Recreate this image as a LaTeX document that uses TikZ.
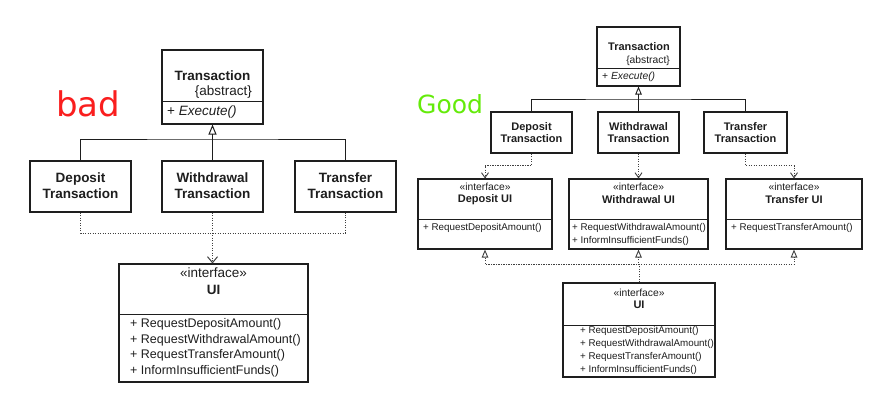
\documentclass[tikz,border=0pt]{standalone}
\usepackage{fontspec}
\setmainfont{Liberation Sans}
\newfontfamily\labelfont{DejaVu Sans}
\usetikzlibrary{arrows.meta}
\definecolor{badred}{RGB}{250,30,30}
\definecolor{goodgreen}{RGB}{100,235,10}
\definecolor{ink}{RGB}{30,30,30}
\begin{document}
\begin{tikzpicture}[x=1pt,y=-1pt,
  cls/.style={draw=ink, line width=1.1pt, inner sep=0pt},
  txt/.style={inner sep=0pt, text=ink},
  lname/.style={txt, align=center, font=\fontsize{13.5}{16}\selectfont\bfseries},
  lreg/.style={txt, font=\fontsize{13.5}{16}\selectfont},
  lmeth/.style={txt, anchor=west, font=\fontsize{12.5}{15}\selectfont},
  rname/.style={txt, align=center, font=\fontsize{11}{12}\selectfont\bfseries},
  rreg/.style={txt, font=\fontsize{10.3}{12}\selectfont},
  rmeth/.style={txt, anchor=west, font=\fontsize{9.8}{12}\selectfont},
  conn/.style={draw=ink, line width=1pt},
  dep/.style={draw=ink!85, line width=0.9pt, dash pattern=on 1.2pt off 1.3pt},
  linh/.style={-{Triangle[open,length=10pt,width=8pt,line width=1pt]}},
  rinh/.style={-{Triangle[open,length=8pt,width=6.5pt,line width=0.9pt]}},
  lvee/.style={-{Straight Barb[length=6pt,width=10pt,line width=1pt]}},
  rvee/.style={-{Straight Barb[length=5pt,width=7pt,line width=0.9pt]}}
]
\useasboundingbox[fill=white] (0,0) rectangle (888,408);

% ---------------- labels ----------------
\node[anchor=base west, inner sep=0pt, text=badred, font=\labelfont\fontsize{34}{34}\selectfont] (bad) at (56,116) {bad};
\node[anchor=base west, inner sep=0pt, text=goodgreen, font=\labelfont\fontsize{25}{25}\selectfont] (good) at (417,113) {Good};

% ================= BAD (left) =================
\node[cls, minimum width=101pt, minimum height=74pt] (lT) at (212.5,87) {};
\draw[conn] (lT.west |- 0,101) -- (lT.east |- 0,101);
\node[lname] (lTn) at (212.5,76) {Transaction};
\node[lreg, anchor=east] (lTa) at (252,92) {\{abstract\}};
\node[lreg, anchor=west] (lTm) at (167,112) {+ \itshape Execute()};

\node[cls, minimum width=101pt, minimum height=51pt] (lD) at (80.5,186.5) {};
\node[lname] (lDn) at (80.5,186) {Deposit\\Transaction};
\node[cls, minimum width=101pt, minimum height=51pt] (lW) at (212.5,186.5) {};
\node[lname] (lWn) at (212.5,186) {Withdrawal\\Transaction};
\node[cls, minimum width=101pt, minimum height=51pt] (lTr) at (345.5,186.5) {};
\node[lname] (lTrn) at (345.5,186) {Transfer\\Transaction};

\node[cls, minimum width=189pt, minimum height=118pt] (lUI) at (213.5,323) {};
\draw[conn] (lUI.west |- 0,314) -- (lUI.east |- 0,314);
\node[lreg] (lUIs) at (213.5,273) {«interface»};
\node[lname] (lUIn) at (213.5,290) {UI};
\node[lmeth] (lm1) at (130,324.5) {+ RequestDepositAmount()};
\node[lmeth] (lm2) at (130,340) {+ RequestWithdrawalAmount()};
\node[lmeth] (lm3) at (130,355.5) {+ RequestTransferAmount()};
\node[lmeth] (lm4) at (130,371) {+ InformInsufficientFunds()};

% inheritance
\coordinate (lJ) at (212.5,139);
\draw[conn] (lD.north) |- (lJ) -| (lTr.north);
\draw[conn, linh] (lW.north) -- (lT.south);
% dependencies
\coordinate (lK) at (212.5,233);
\draw[dep] (lD.south) |- (lK) -| (lTr.south);
\draw[dep, lvee] (lW.south) -- (lW.south |- lUI.north);

% ================= GOOD (right) =================
\node[cls, minimum width=83pt, minimum height=59pt] (rT) at (638.5,56.5) {};
\draw[conn] (rT.west |- 0,68) -- (rT.east |- 0,68);
\node[rname] (rTn) at (639,47) {Transaction};
\node[rreg, anchor=east] (rTa) at (670,61) {\{abstract\}};
\node[rreg, anchor=west] (rTm) at (602,77) {+ \itshape Execute()};

\node[cls, minimum width=81pt, minimum height=41pt] (rD) at (531.5,132.5) {};
\node[rname] (rDn) at (531.5,132.5) {Deposit\\Transaction};
\node[cls, minimum width=81pt, minimum height=41pt] (rW) at (638.5,132.5) {};
\node[rname] (rWn) at (638.5,132.5) {Withdrawal\\Transaction};
\node[cls, minimum width=83pt, minimum height=41pt] (rTr) at (745.5,132.5) {};
\node[rname] (rTrn) at (745.5,132.5) {Transfer\\Transaction};

\coordinate (rJ) at (638.5,99);
\draw[conn] (rD.north) |- (rJ) -| (rTr.north);
\draw[conn, rinh] (rW.north) -- (rT.south);

% interface boxes
\node[cls, minimum width=134pt, minimum height=70pt] (rDUI) at (485,214) {};
\draw[conn] (rDUI.west |- 0,219) -- (rDUI.east |- 0,219);
\node[rreg] (rDUIs) at (485,187) {«interface»};
\node[rname] (rDUIn) at (485,200) {Deposit UI};
\node[rmeth] (rDm1) at (423,228) {+ RequestDepositAmount()};

\node[cls, minimum width=139pt, minimum height=70pt] (rWUI) at (638.5,214) {};
\draw[conn] (rWUI.west |- 0,219) -- (rWUI.east |- 0,219);
\node[rreg] (rWUIs) at (638.5,187) {«interface»};
\node[rname] (rWUIn) at (638.5,200) {Withdrawal UI};
\node[rmeth] (rWm1) at (572,228) {+ RequestWithdrawalAmount()};
\node[rmeth] (rWm2) at (572,241) {+ InformInsufficientFunds()};

\node[cls, minimum width=136pt, minimum height=70pt] (rTUI) at (794,214) {};
\draw[conn] (rTUI.west |- 0,219) -- (rTUI.east |- 0,219);
\node[rreg] (rTUIs) at (794,187) {«interface»};
\node[rname] (rTUIn) at (794,200) {Transfer UI};
\node[rmeth] (rTm1) at (731,228) {+ RequestTransferAmount()};

% dependencies to interfaces
\draw[dep, rvee] (rD.south) -- ++(0,12) -| (rDUI.north);
\draw[dep, rvee] (rW.south) -- (rW.south |- rWUI.north);
\draw[dep, rvee] (rTr.south) -- ++(0,12) -| (rTUI.north);

% UI
\node[cls, minimum width=152pt, minimum height=94pt] (rUI) at (639,330) {};
\draw[conn] (rUI.west |- 0,325) -- (rUI.east |- 0,325);
\node[rreg] (rUIs) at (639,293) {«interface»};
\node[rname] (rUIn) at (639,304.5) {UI};
\node[rmeth] (rm1) at (580,331) {+ RequestDepositAmount()};
\node[rmeth] (rm2) at (580,344) {+ RequestWithdrawalAmount()};
\node[rmeth] (rm3) at (580,357) {+ RequestTransferAmount()};
\node[rmeth] (rm4) at (580,370) {+ InformInsufficientFunds()};

% realisation up from UI
\draw[dep, rinh] (rUI.north) -- ++(0,-18) -| (rDUI.south);
\draw[dep, rinh] (rUI.north) -- ++(0,-18) -| (rWUI.south);
\draw[dep, rinh] (rUI.north) -- ++(0,-18) -| (rTUI.south);
\end{tikzpicture}
\end{document}
